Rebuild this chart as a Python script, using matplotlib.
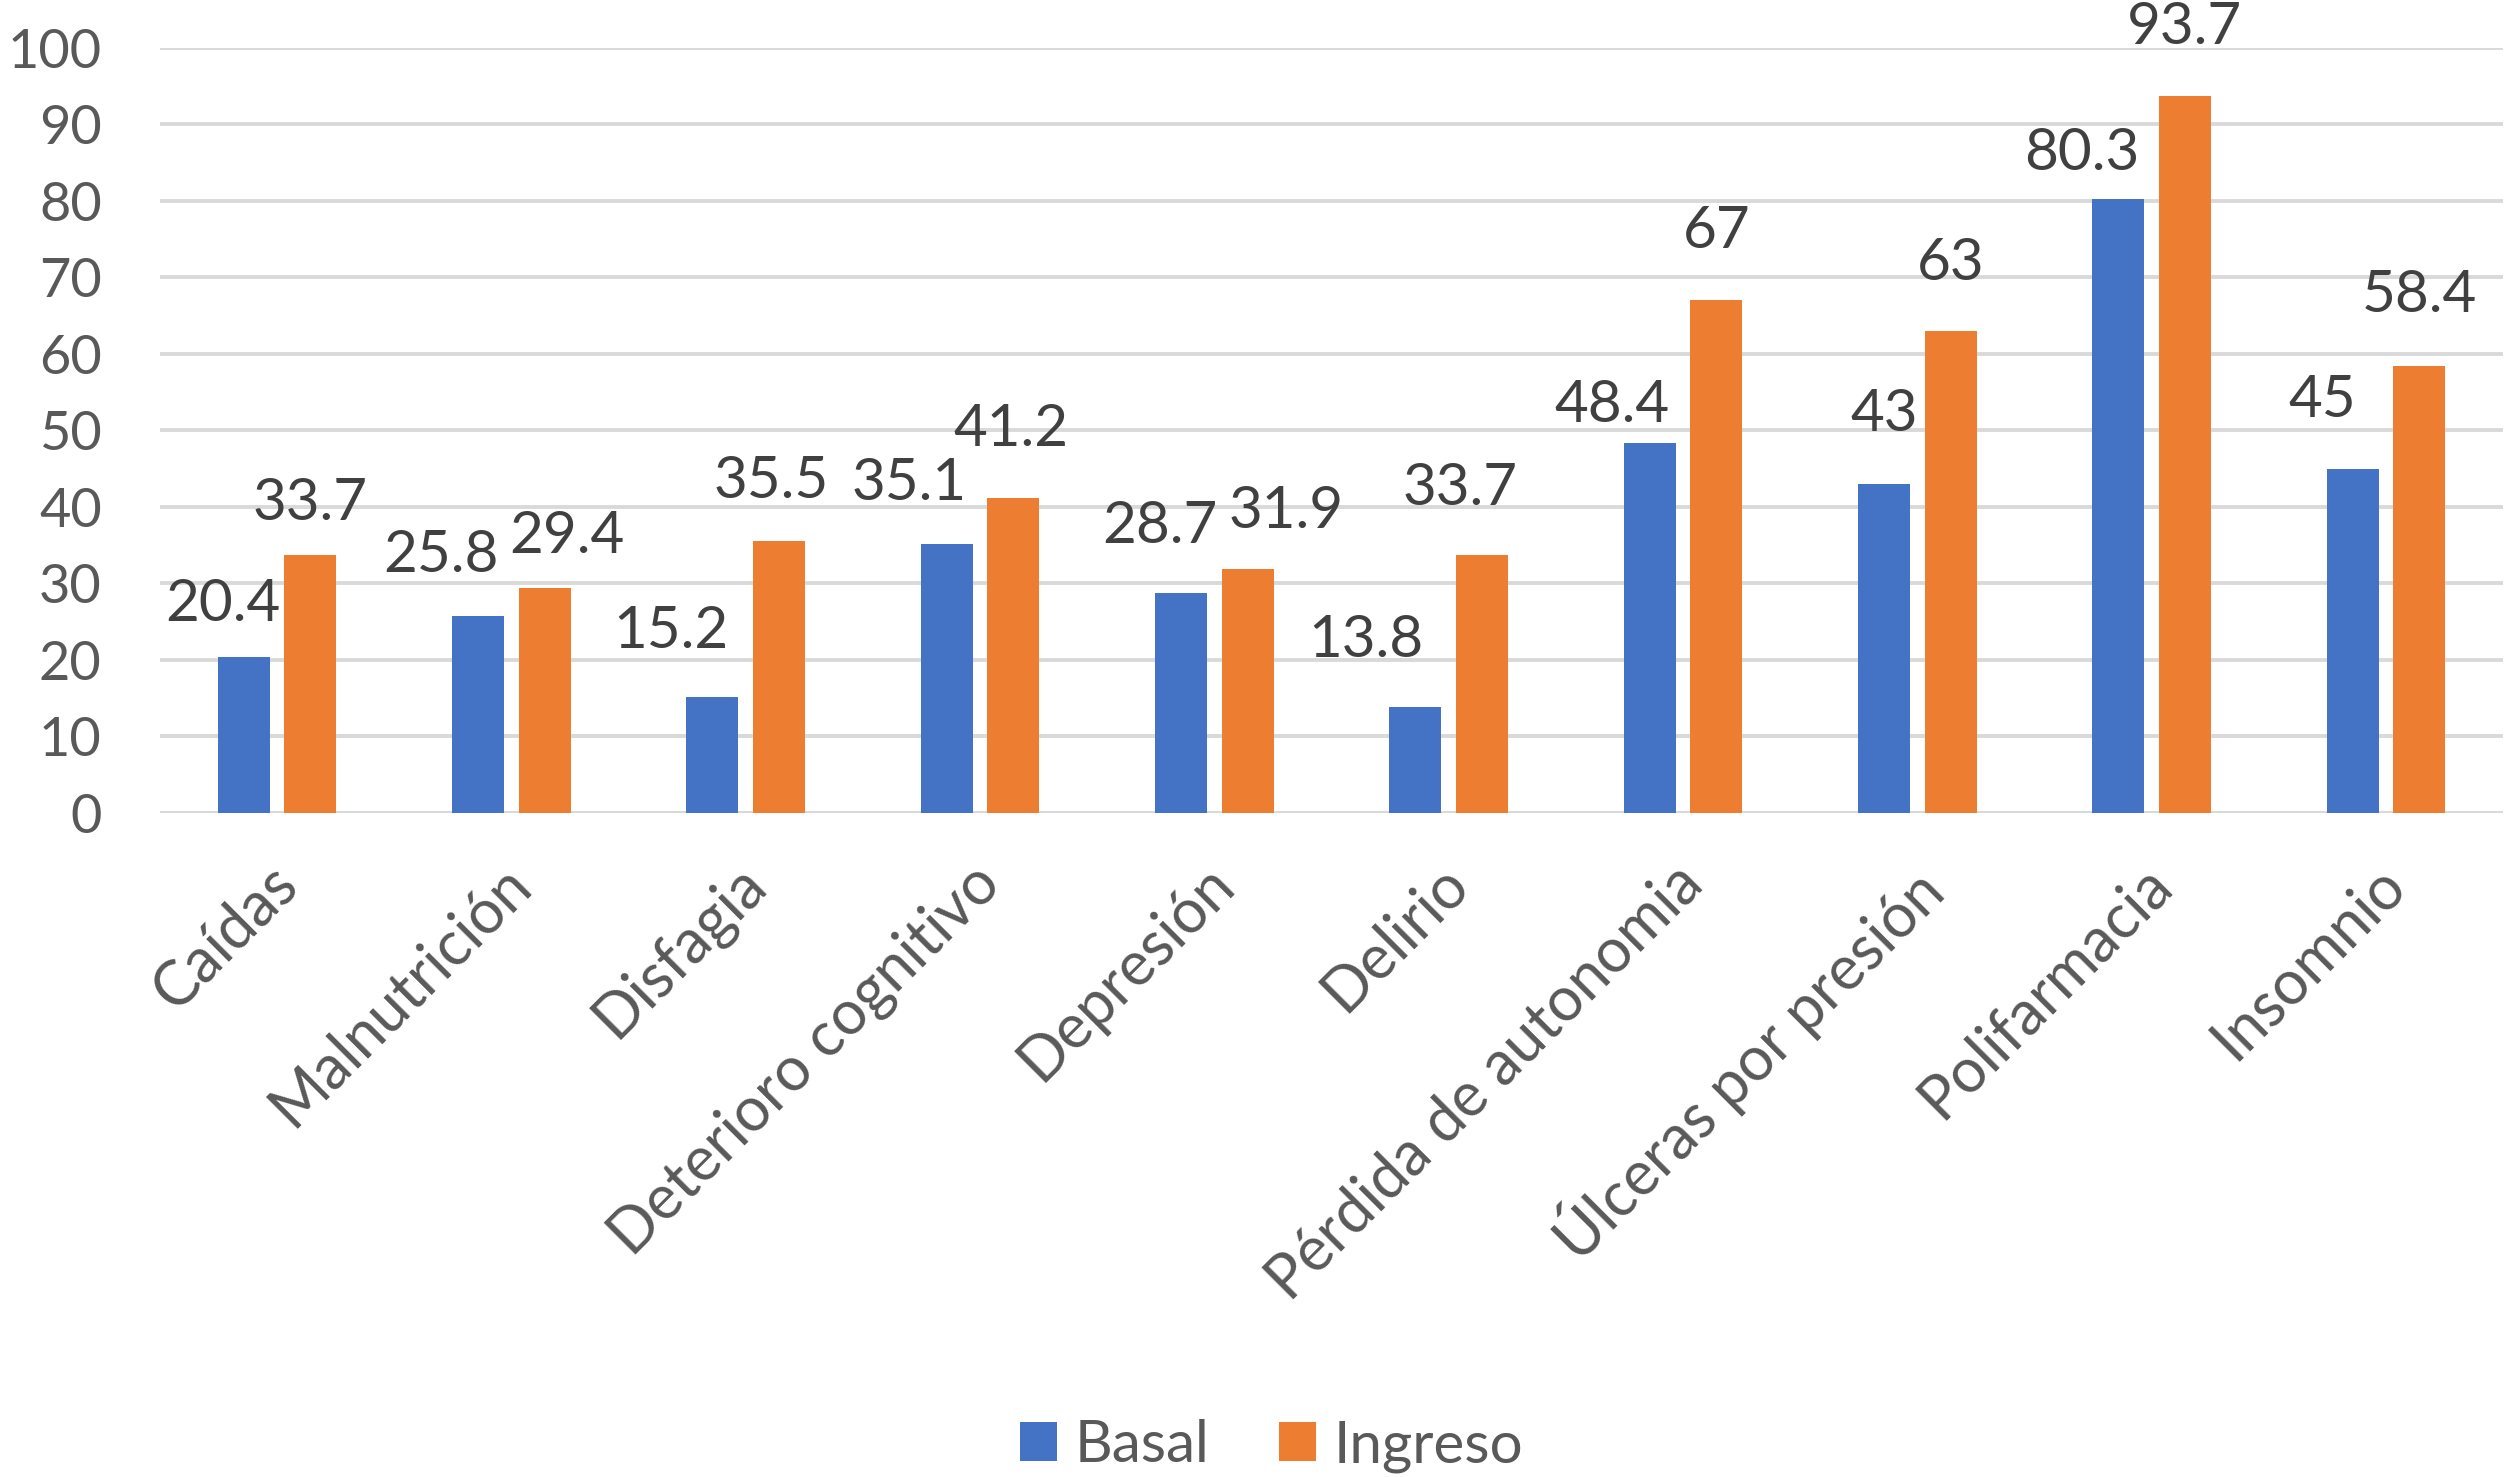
import matplotlib
matplotlib.use('Agg')
import matplotlib.pyplot as plt
import matplotlib.transforms as mtransforms
import numpy as np

# data
categories = ['Caídas', 'Malnutrición', 'Disfagia', 'Deterioro cognitivo', 'Depresión',
              'Delirio', 'Pérdida de autonomia', 'Úlceras por presión', 'Polifarmacia', 'Insomnio']
basal = [20.4, 25.8, 15.2, 35.1, 28.7, 13.8, 48.4, 43, 80.3, 45]
ingreso = [33.7, 29.4, 35.5, 41.2, 31.9, 33.7, 67, 63, 93.7, 58.4]
series_names = ['Basal', 'Ingreso']

# label nudges (pixels) so the data labels sit like the original
basal_dx = [-21, -37, -42, -38, -21, -50, -38, 0, -37, -30]
basal_gap = [36, 44, 49, 44, 50, 50, 21, 53, 29, 52]
ingreso_dx = [0, 22, -8, -2, 38, -22, 0, 0, 0, 0]
ingreso_gap = [35, 35, 43, 52, 41, 50, 52, 51, 52, 54]

DPI = 100
BLUE = '#4472C4'
ORANGE = '#ED7D31'
GRID = '#D9D9D9'
TXT = '#595959'
VAL = '#404040'

plt.rcParams['font.family'] = ['Lato', 'DejaVu Sans']

fig = plt.figure(figsize=(25.08, 14.77), dpi=DPI)
ax = fig.add_axes([0.0638, 0.4496, 0.9342, 0.5179])

x = np.arange(len(categories))
width = 0.222
off = 0.142
b1 = ax.bar(x - off, basal, width, color=BLUE, label=series_names[0], zorder=3)
b2 = ax.bar(x + off, ingreso, width, color=ORANGE, label=series_names[1], zorder=3)

px = 72.0 / DPI
for bars, vals, dxs, gaps in [(b1, basal, basal_dx, basal_gap), (b2, ingreso, ingreso_dx, ingreso_gap)]:
    for rect, v, dx, g in zip(bars, vals, dxs, gaps):
        ax.annotate(f'{v:g}', (rect.get_x() + rect.get_width() / 2, v),
                    xytext=(dx * px, g * px), textcoords='offset points',
                    ha='center', va='baseline', fontsize=42, color=VAL, annotation_clip=False)

ax.set_xlim(-0.5, len(categories) - 0.5)
ax.set_ylim(0, 100)
ax.set_yticks(range(0, 101, 10))
ax.yaxis.grid(True, color=GRID, linewidth=2.8, zorder=0)
ax.set_axisbelow(True)
for s in ax.spines.values():
    s.set_visible(False)
ax.axhline(0, color=GRID, linewidth=2.8, zorder=1)

ax.tick_params(axis='y', length=0, pad=42, labelsize=39, labelcolor=TXT)
ax.tick_params(axis='x', length=0, pad=30, labelsize=44, labelcolor=TXT)
ax.set_xticks(x)
ax.set_xticklabels(categories, rotation=45, ha='right', va='top', rotation_mode='anchor')
shift = mtransforms.ScaledTranslation(-10 / DPI, 0, fig.dpi_scale_trans)
for lbl in ax.get_xticklabels():
    lbl.set_transform(lbl.get_transform() + shift)

leg = fig.legend(handles=[b1, b2], labels=series_names, loc='center', bbox_to_anchor=(0.507, 0.021),
                 ncol=2, frameon=False, fontsize=42, labelcolor=TXT,
                 handlelength=0.64, handleheight=0.64, handletextpad=0.3, columnspacing=1.2)

fig.savefig('out.png', dpi=DPI)
plt.close(fig)
